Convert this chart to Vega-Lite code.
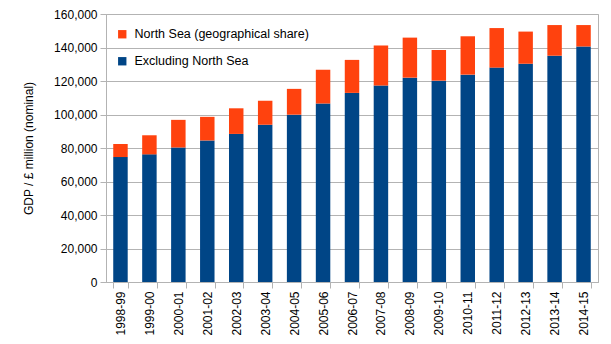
{
  "$schema": "https://vega.github.io/schema/vega-lite/v6.json",
  "autosize": "none",
  "padding": {"left": 106, "top": 14, "right": 13, "bottom": 62},
  "width": 492,
  "height": 268,
  "background": "white",
  "config": {
    "font": "Liberation Sans",
    "view": {"stroke": "#b3b3b3"},
    "axis": {"labelColor": "#000000", "titleColor": "#000000", "labelFont": "Liberation Sans", "titleFont": "Liberation Sans", "domainColor": "#b3b3b3", "tickColor": "#b3b3b3", "gridColor": "#b3b3b3"}
  },
  "data": {
    "values": [
      {"year": "1998-99", "series": "Excluding North Sea", "value": 74600},
      {"year": "1998-99", "series": "North Sea (geographical share)", "value": 7800},
      {"year": "1999-00", "series": "Excluding North Sea", "value": 76200},
      {"year": "1999-00", "series": "North Sea (geographical share)", "value": 11400},
      {"year": "2000-01", "series": "Excluding North Sea", "value": 80300},
      {"year": "2000-01", "series": "North Sea (geographical share)", "value": 16500},
      {"year": "2001-02", "series": "Excluding North Sea", "value": 84500},
      {"year": "2001-02", "series": "North Sea (geographical share)", "value": 14100},
      {"year": "2002-03", "series": "Excluding North Sea", "value": 88400},
      {"year": "2002-03", "series": "North Sea (geographical share)", "value": 15300},
      {"year": "2003-04", "series": "Excluding North Sea", "value": 93900},
      {"year": "2003-04", "series": "North Sea (geographical share)", "value": 14300},
      {"year": "2004-05", "series": "Excluding North Sea", "value": 99900},
      {"year": "2004-05", "series": "North Sea (geographical share)", "value": 15400},
      {"year": "2005-06", "series": "Excluding North Sea", "value": 106600},
      {"year": "2005-06", "series": "North Sea (geographical share)", "value": 20100},
      {"year": "2006-07", "series": "Excluding North Sea", "value": 112900},
      {"year": "2006-07", "series": "North Sea (geographical share)", "value": 19700},
      {"year": "2007-08", "series": "Excluding North Sea", "value": 117300},
      {"year": "2007-08", "series": "North Sea (geographical share)", "value": 23900},
      {"year": "2008-09", "series": "Excluding North Sea", "value": 122000},
      {"year": "2008-09", "series": "North Sea (geographical share)", "value": 23900},
      {"year": "2009-10", "series": "Excluding North Sea", "value": 120200},
      {"year": "2009-10", "series": "North Sea (geographical share)", "value": 18300},
      {"year": "2010-11", "series": "Excluding North Sea", "value": 123800},
      {"year": "2010-11", "series": "North Sea (geographical share)", "value": 22900},
      {"year": "2011-12", "series": "Excluding North Sea", "value": 128000},
      {"year": "2011-12", "series": "North Sea (geographical share)", "value": 23600},
      {"year": "2012-13", "series": "Excluding North Sea", "value": 130300},
      {"year": "2012-13", "series": "North Sea (geographical share)", "value": 19200},
      {"year": "2013-14", "series": "Excluding North Sea", "value": 135100},
      {"year": "2013-14", "series": "North Sea (geographical share)", "value": 18300},
      {"year": "2014-15", "series": "Excluding North Sea", "value": 140600},
      {"year": "2014-15", "series": "North Sea (geographical share)", "value": 12800}
    ]
  },
  "mark": {"type": "bar"},
  "encoding": {
    "x": {
      "field": "year", "type": "nominal", "sort": null,
      "scale": {"paddingInner": 0.5, "paddingOuter": 0.25},
      "axis": {"title": null, "labelAngle": -90, "labelFontSize": 12, "tickBand": "extent", "tickSize": 6, "labelPadding": 3, "grid": false}
    },
    "y": {
      "field": "value", "type": "quantitative", "stack": "zero",
      "scale": {"domain": [0, 160000], "nice": false},
      "axis": {"title": "GDP / £ million (nominal)", "titleFontSize": 12, "titleFontWeight": "normal", "labelFontSize": 12, "tickCount": 8, "format": ",d", "tickSize": 6, "labelPadding": 3, "titlePadding": 18, "grid": true}
    },
    "color": {
      "field": "series", "type": "nominal",
      "scale": {"domain": ["North Sea (geographical share)", "Excluding North Sea"], "range": ["#ff420e", "#004586"]},
      "legend": {"title": null, "orient": "none", "legendX": 10, "legendY": 14, "symbolType": "square", "symbolSize": 70, "symbolStrokeWidth": 0, "labelFontSize": 12.5, "labelFont": "Liberation Sans", "labelColor": "#000000", "labelLimit": 400, "rowPadding": 14, "labelOffset": 6}
    },
    "order": {"field": "series", "sort": "ascending"}
  }
}
